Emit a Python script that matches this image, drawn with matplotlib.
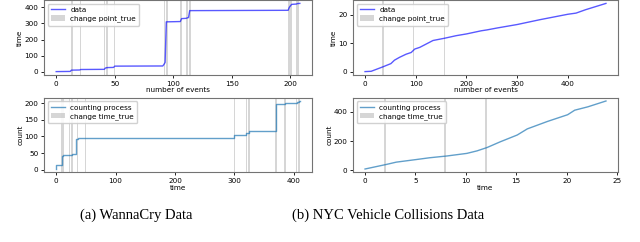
import numpy as np
import matplotlib
matplotlib.use('Agg')
import matplotlib.pyplot as plt

# WannaCry: event index -> time (breakpoints)
wc_idx = [0, 12, 13, 20, 21, 41, 42, 43, 44, 49, 50, 91, 92, 93, 94, 106, 107, 111, 112, 113, 114, 198, 199, 200, 201, 205, 206, 208]
wc_time = [0, 1, 9, 10, 13, 14, 22, 24, 25, 26, 34, 35, 45, 57, 310, 312, 330, 332, 335, 337, 380, 382, 400, 410, 419, 421, 424, 425]
wc_cp = [13.6, 20.7, 41.4, 43.4, 49.6, 92.4, 94.4, 106.6, 111.5, 114.3, 198.8, 200.3, 205.1, 206.5]

# WannaCry: time -> count (step levels)
wc_t = [0, 0.5, 10, 12, 23, 27, 33, 36, 49, 300, 320, 325, 370, 385, 405, 409, 410]
wc_cnt = [2, 14, 40, 43, 45, 48, 93, 94, 95, 105, 110, 116, 197, 200, 203, 207, 207]
wc_ct = [9.6, 12.4, 22.4, 26.5, 36, 49, 300, 320.5, 325, 370, 385, 405, 409]

# NYC collisions: event index -> time
nyc_idx = [0, 12, 35, 51, 58, 68, 81, 91, 98, 108, 121, 134, 157, 180, 200, 229, 240, 261, 300, 345, 400, 416, 435, 475]
nyc_time = [0, 0.1, 1.65, 2.8, 4.0, 5.0, 6.1, 6.7, 7.9, 8.5, 9.7, 10.9, 11.7, 12.6, 13.2, 14.3, 14.6, 15.3, 16.5, 18.2, 20.1, 20.5, 21.7, 23.9]
nyc_cp = [35, 96, 157]

# NYC collisions: time -> count
nyc_t = [0, 2.1, 3.1, 5.1, 6.4, 8.1, 10.1, 11.1, 12.1, 13.4, 15.1, 16.1, 18.1, 20.1, 20.8, 22.1, 23.9]
nyc_cnt = [9, 40, 56, 74, 86, 98, 116, 133, 156, 195, 242, 284, 335, 381, 412, 435, 475]
nyc_ct = [2, 7.95, 12]

plt.rcParams['font.family'] = 'DejaVu Sans'
plt.rcParams['font.size'] = 5.2

fig = plt.figure(figsize=(6.4, 2.42), dpi=100)
W, H = 640.0, 242.0


def add_ax(l, t, r, b):
    return fig.add_axes([l / W, 1 - b / H, (r - l) / W, (b - t) / H])


ax1 = add_ax(44, 0, 312, 75)
ax2 = add_ax(44, 97.6, 312, 172.4)
ax3 = add_ax(353, 0, 618, 75)
ax4 = add_ax(353, 97.6, 618, 172.4)

span_kw = dict(color='0.6', alpha=0.4, lw=0)


def spans(ax, xs, w, label):
    for i, x in enumerate(xs):
        ax.axvspan(x - w / 2, x + w / 2, label=label if i == 0 else None, **span_kw)


ax1.plot(wc_idx, wc_time, color='blue', alpha=0.65, lw=1, label='data')
spans(ax1, wc_cp, 1.3, 'change point_true')
ax1.set_xlabel('number of events', labelpad=0.5)
ax1.set_ylabel('time', labelpad=1)
ax1.set_xticks([0, 50, 100, 150, 200])
ax1.set_yticks([0, 100, 200, 300, 400])

ax2.step(wc_t, wc_cnt, where='post', color='tab:blue', alpha=0.7, lw=1, label='counting process')
spans(ax2, wc_ct, 2.5, 'change time_true')
ax2.set_xlabel('time', labelpad=0.5)
ax2.set_ylabel('count', labelpad=1)
ax2.set_xticks([0, 100, 200, 300, 400])
ax2.set_yticks([0, 50, 100, 150, 200])

ax3.plot(nyc_idx, nyc_time, color='blue', alpha=0.65, lw=1, label='data')
spans(ax3, nyc_cp, 3.0, 'change point_true')
ax3.set_xlabel('number of events', labelpad=0.5)
ax3.set_ylabel('time', labelpad=1)
ax3.set_xticks([0, 100, 200, 300, 400])
ax3.set_yticks([0, 10, 20])

ax4.plot(nyc_t, nyc_cnt, color='tab:blue', alpha=0.7, lw=1, label='counting process')
spans(ax4, nyc_ct, 0.15, 'change time_true')
ax4.set_xlabel('time', labelpad=0.5)
ax4.set_ylabel('count', labelpad=1)
ax4.set_xticks([0, 5, 10, 15, 20, 25])
ax4.set_yticks([0, 200, 400])

for ax in (ax1, ax2, ax3, ax4):
    for s in ax.spines.values():
        s.set_color('0.45')
        s.set_linewidth(0.8)
    ax.tick_params(length=2.5, width=0.6, pad=1.5, labelsize=5.2)
    ax.legend(loc='upper left', fontsize=5.2, handlelength=1.9, borderpad=0.45,
              labelspacing=0.35, framealpha=0.9, edgecolor='0.8')

fig.text(136 / W, 1 - 215 / H, '(a) WannaCry Data', family='Liberation Serif',
         fontsize=10.5, ha='center', va='center')
fig.text(388 / W, 1 - 215 / H, '(b) NYC Vehicle Collisions Data', family='Liberation Serif',
         fontsize=10.5, ha='center', va='center')

fig.savefig('out.png', dpi=100)
